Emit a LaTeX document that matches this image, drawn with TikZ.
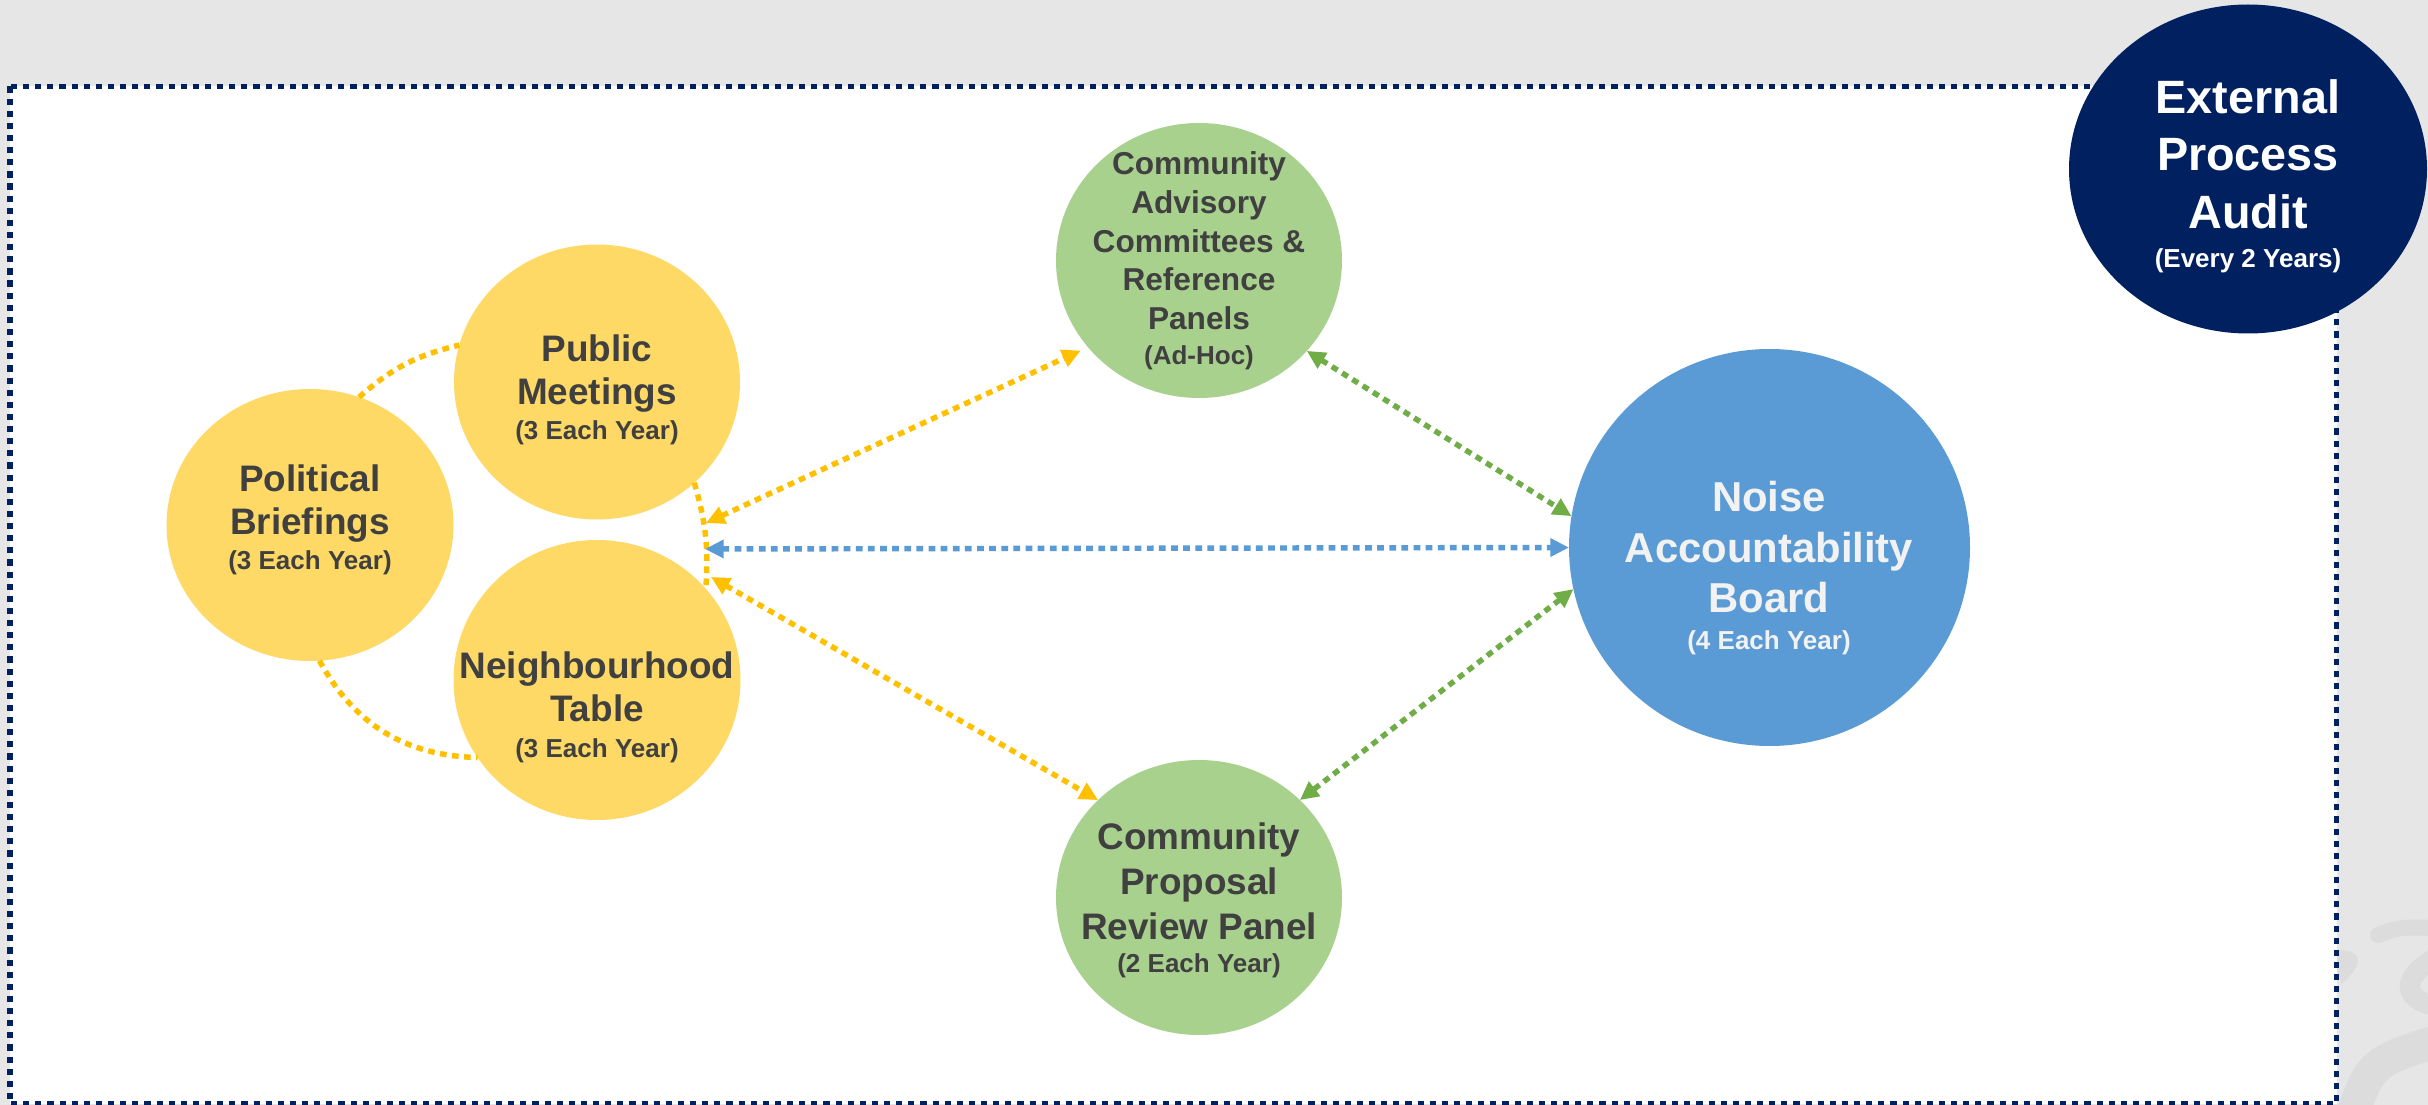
\documentclass[tikz,border=0pt]{standalone}
\usepackage{fontspec}
\setmainfont{Liberation Sans}
\usetikzlibrary{shapes.geometric,arrows.meta}

\definecolor{bggray}{HTML}{E6E6E6}
\definecolor{wmgray}{HTML}{DCDCDC}
\definecolor{navy}{HTML}{002060}
\definecolor{bubyellow}{HTML}{FFD966}
\definecolor{bubgreen}{HTML}{A9D18E}
\definecolor{bubblue}{HTML}{5B9BD5}
\definecolor{lnyellow}{HTML}{FFC000}
\definecolor{lngreen}{HTML}{70AD47}
\definecolor{txtdark}{HTML}{404040}
\definecolor{txtlight}{HTML}{F2F2F2}

\newcommand\freqfont{\fontsize{7.4}{8}\selectfont}

\begin{document}
\begin{tikzpicture}[x=0.1mm,y=-0.1mm,
    bubble/.style={ellipse,inner sep=0pt,outer sep=0pt},
    txt/.style={align=center,inner sep=0pt,text=txtdark},
    dots/.style={line width=1.55pt,dash pattern=on 1.9pt off 1.55pt},
    twoway/.style={{Triangle[length=5.3pt,width=5pt]}-{Triangle[length=5.3pt,width=5pt]}},
    wmark/.style={wmgray,line cap=round}]

    % page and frame
    \useasboundingbox (0,0) rectangle (2428,1105);
    \clip (0,0) rectangle (2428,1105);
    \fill[bggray] (0,0) rectangle (2428,1105);
    \draw[wmark,line width=3.3mm] (2352,1115) .. controls (2372,1062) .. (2440,1040);
    \draw[wmark,line width=1.6mm] (2378,935) .. controls (2400,927) .. (2435,928);
    \draw[wmark,line width=2mm] (2435,958) .. controls (2405,975) and (2398,998) .. (2435,1006);
    \fill[wmgray] (2330,950) .. controls (2360,948) and (2368,960) .. (2342,984) -- cycle;
    \draw[navy,fill=white,line width=1.65pt,dash pattern=on 1.75pt off 1.7pt]
        (10,86.5) rectangle (2336.5,1104);

    % bubbles
    \node[bubble,fill=bubyellow,minimum width=28.7mm,minimum height=27.2mm] (pb) at (310,525) {};
    \node[bubble,fill=bubyellow,minimum width=28.6mm,minimum height=27.5mm] (pm) at (597,382) {};
    \node[bubble,fill=bubyellow,minimum width=28.7mm,minimum height=28.0mm] (nt) at (597,680) {};
    \node[bubble,fill=bubgreen,minimum width=28.6mm,minimum height=27.5mm] (ca) at (1199,260.5) {};
    \node[bubble,fill=bubgreen,minimum width=28.6mm,minimum height=27.5mm] (cp) at (1199,897.5) {};
    \node[bubble,fill=bubblue,minimum width=40.1mm,minimum height=39.7mm] (nab) at (1769.5,547.5) {};
    \node[bubble,fill=navy,minimum width=35.8mm,minimum height=32.9mm] (epa) at (2248,169) {};

    % yellow ring round the local group
    \draw[dots,lnyellow] (pb.69) to[bend left=14] (pm.165);
    \draw[dots,lnyellow] (pb.-86) to[bend right=30] (nt.213);
    \draw[dots,lnyellow] (pm.-46) to[bend left=10] (nt.40);

    \coordinate (hubT) at (706,523);
    \coordinate (hubM) at (705,549);
    \coordinate (hubB) at (711,577);

    % links
    \draw[dots,twoway,lnyellow,shorten >=0.8mm] (hubT) -- (ca.218);
    \draw[dots,twoway,bubblue] (hubM) -- (nab.180);
    \draw[dots,twoway,lnyellow] (hubB) -- (cp.136);
    \draw[dots,twoway,lngreen] (ca.-40) -- (nab.171);
    \draw[dots,twoway,lngreen] (nab.192.6) -- (cp.44);

    % labels
    \node[txt,font=\fontsize{10.5}{12.2}\selectfont\bfseries] (pb-t) at (310,520)
        {Political\\Briefings\\[-2.2pt]{\freqfont(3 Each Year)}};
    \node[txt,font=\fontsize{10.5}{12.2}\selectfont\bfseries] (pm-t) at (597,390)
        {Public\\Meetings\\[-2.2pt]{\freqfont(3 Each Year)}};
    \node[txt,font=\fontsize{10.5}{12.4}\selectfont\bfseries] (nt-t) at (597,707)
        {Neighbourhood\\Table\\[-2.4pt]{\freqfont(3 Each Year)}};
    \node[txt,font=\fontsize{9}{11}\selectfont\bfseries] (ca-t) at (1199,261)
        {Community\\Advisory\\Committees \&\\Reference\\Panels\\[-1pt]{\freqfont(Ad-Hoc)}};
    \node[txt,font=\fontsize{10.5}{12.8}\selectfont\bfseries] (cp-t) at (1199,900)
        {Community\\Proposal\\Review Panel\\[-3.4pt]{\freqfont(2 Each Year)}};
    \node[txt,text=txtlight,font=\fontsize{11.9}{14.3}\selectfont\bfseries] (nab-t) at (1769,568)
        {Noise\\Accountability\\Board\\[-3.8pt]{\freqfont(4 Each Year)}};
    \node[txt,text=white,font=\fontsize{13.3}{16.4}\selectfont\bfseries] (epa-t) at (2248,176)
        {External\\Process\\Audit\\[-5.3pt]{\freqfont(Every 2 Years)}};
\end{tikzpicture}
\end{document}
